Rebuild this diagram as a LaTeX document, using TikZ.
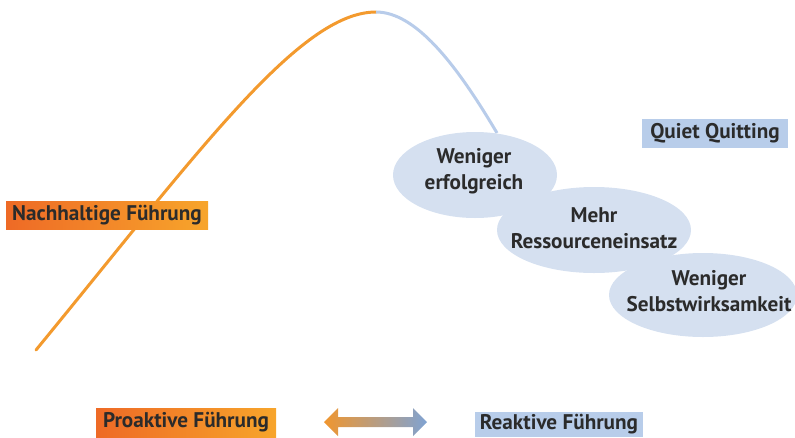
\documentclass[tikz,border=0pt]{standalone}
\usepackage{fontspec}
\setmainfont{PT Sans}
\usetikzlibrary{shapes.geometric}
\definecolor{txt}{HTML}{2B2B2B}
\definecolor{orL}{HTML}{EE6A26}
\definecolor{orR}{HTML}{F7A52B}
\definecolor{curveor}{HTML}{F39A2E}
\definecolor{curvebl}{HTML}{B8CCEA}
\definecolor{ellfill}{HTML}{D5E0F0}
\definecolor{boxbl}{HTML}{B8CDEA}
\definecolor{arrL}{HTML}{F0962F}
\definecolor{arrR}{HTML}{7FA3D3}
\tikzset{
  lbl/.style={font=\fontsize{21.2}{26.5}\selectfont\bfseries, text=txt, inner sep=0pt, align=center},
  orbox/.style={lbl, left color=orL, right color=orR, draw=none},
  blbox/.style={lbl, fill=boxbl, draw=none},
  cloud/.style={ellipse, fill=ellfill, draw=none, inner sep=0pt},
  curveline/.style={line width=3pt, line cap=round},
}
\begin{document}
\begin{tikzpicture}[x=1pt,y=-1pt]
\useasboundingbox (0,0) rectangle (795,437);
% curve
\coordinate (cs) at (36,350);
\coordinate (cp) at (376,12);
\coordinate (ce) at (497,133);
\draw[curveline, draw=curveor] (cs) .. controls (200,150) and (300,12) .. (cp);
\draw[curveline, draw=curvebl, line cap=butt] (cp) .. controls (415,12) and (455,62) .. (ce);
% ellipses
\node[cloud, minimum width=164pt, minimum height=86pt] (e1) at (475,175) {};
\node[cloud, minimum width=194pt, minimum height=86pt] (e2) at (594,230) {};
\node[cloud, minimum width=188pt, minimum height=84pt] (e3) at (703,295) {};
\node[lbl] (t1) at (474,171) {Weniger\\erfolgreich};
\node[lbl] (t2) at (594,228) {Mehr\\Ressourceneinsatz};
\node[lbl] (t3) at (709,291) {Weniger\\Selbstwirksamkeit};
% labels
\node[orbox, minimum width=202pt, minimum height=28pt] (nach) at (107,215) {Nachhaltige Führung};
\node[blbox, minimum width=146pt, minimum height=29pt] (quiet) at (715,133.5) {Quiet Quitting};
\node[orbox, minimum width=180pt, minimum height=29pt] (pro) at (186,422.5) {Proaktive Führung};
\node[blbox, minimum width=168pt, minimum height=25pt] (rea) at (559,424.5) {Reaktive Führung};
% double arrow
\coordinate (al) at (324,422);
\coordinate (ar) at (427,422);
\shade[left color=arrL, right color=arrR]
  (al) -- (338,408) -- (338,417) -- (413,417) -- (413,408) -- (ar)
  -- (413,436) -- (413,427) -- (338,427) -- (338,436) -- cycle;
\end{tikzpicture}
\end{document}
